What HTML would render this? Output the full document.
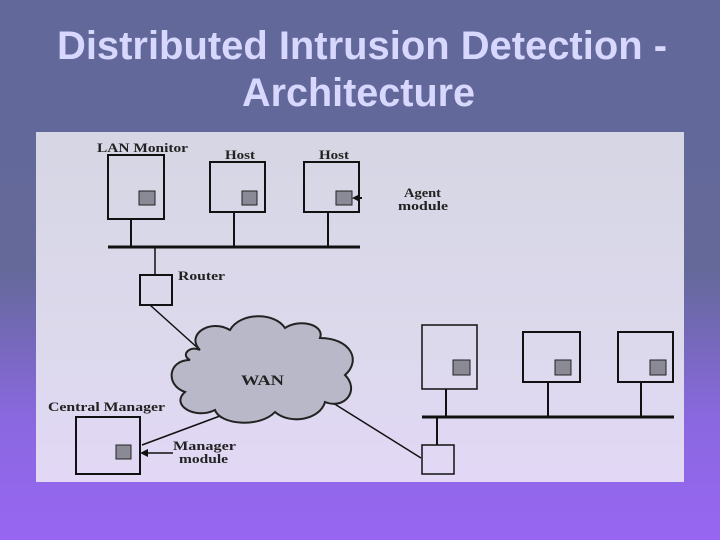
<!DOCTYPE html>
<html><head><meta charset="utf-8"><style>
html,body{margin:0;padding:0;}
body{width:720px;height:540px;overflow:hidden;background:linear-gradient(#62689a 0%,#64699a 50%,#8a68e0 78%,#9866f2 100%);}
</style></head><body>
<svg width="720" height="540" viewBox="0 0 720 540" xmlns="http://www.w3.org/2000/svg" style="position:absolute;left:0;top:0">
<defs><linearGradient id="pg" x1="0" y1="0" x2="0" y2="1"><stop offset="0" stop-color="#d6d6e4"/><stop offset="0.6" stop-color="#dcd9ec"/><stop offset="1" stop-color="#e2d8f6"/></linearGradient></defs>
<g font-family="Liberation Sans, sans-serif" font-weight="bold" fill="#d8d8ff" font-size="40">
<text x="57" y="59" textLength="610" lengthAdjust="spacingAndGlyphs">Distributed Intrusion Detection -</text>
<text x="242" y="106" textLength="233" lengthAdjust="spacingAndGlyphs">Architecture</text>
</g>
<rect x="36" y="132" width="648" height="350" fill="url(#pg)"/>
<g stroke="#111" fill="none" stroke-width="2">
<rect x="108" y="155" width="56" height="64"/>
<rect x="210" y="162" width="55" height="50"/>
<rect x="304" y="162" width="55" height="50"/>
<line x1="131" y1="219" x2="131" y2="247"/><line x1="234" y1="212" x2="234" y2="247"/><line x1="328" y1="212" x2="328" y2="247"/>
<line x1="108" y1="247" x2="360" y2="247" stroke-width="3"/>
<line x1="155" y1="247" x2="155" y2="275" stroke-width="1.5"/>
<rect x="140" y="275" width="32" height="30"/>
<line x1="150" y1="305" x2="200" y2="350" stroke-width="1.5"/>
<rect x="76" y="417" width="64" height="57"/>
<line x1="228" y1="413" x2="142" y2="445" stroke-width="1.5"/>
<line x1="173" y1="453" x2="142" y2="453" stroke-width="1.5"/>
<line x1="333" y1="403" x2="421" y2="458" stroke-width="1.5"/>
<rect x="422" y="325" width="55" height="64" stroke-width="1.5"/>
<rect x="523" y="332" width="57" height="50"/>
<rect x="618" y="332" width="55" height="50"/>
<line x1="422" y1="417" x2="674" y2="417" stroke-width="3"/>
<line x1="446" y1="389" x2="446" y2="417"/><line x1="548" y1="382" x2="548" y2="417"/><line x1="641" y1="382" x2="641" y2="417"/>
<line x1="437" y1="417" x2="437" y2="445"/>
<rect x="422" y="445" width="32" height="29" stroke-width="1.5"/>
<line x1="362" y1="198" x2="354" y2="198"/>
</g>
<path d="M200,350 C185,335 210,318 230,330 C240,312 275,312 285,328 C300,318 325,325 320,338 C350,338 362,360 345,375 C360,390 345,410 325,402 C320,420 290,425 275,412 C260,428 220,425 215,410 C195,420 170,405 185,392 C165,385 168,360 190,360 C180,355 190,345 200,350 Z" fill="#b8b8c8" stroke="#222" stroke-width="2"/>
<g fill="#8a8a96" stroke="#222" stroke-width="1">
<rect x="139" y="191" width="16" height="14"/><rect x="242" y="191" width="15" height="14"/><rect x="336" y="191" width="16" height="14"/>
<rect x="116" y="445" width="15" height="14"/>
<rect x="453" y="360" width="17" height="15"/><rect x="555" y="360" width="16" height="15"/><rect x="650" y="360" width="16" height="15"/>
</g>
<polygon points="352,198 360,194 360,202" fill="#111"/>
<polygon points="140,453 148,449 148,457" fill="#111"/>
<g font-family="Liberation Serif, serif" font-weight="bold" fill="#222" font-size="13" lengthAdjust="spacingAndGlyphs">
<text x="97" y="152" textLength="91" lengthAdjust="spacingAndGlyphs">LAN Monitor</text>
<text x="225" y="159" textLength="30" lengthAdjust="spacingAndGlyphs">Host</text>
<text x="319" y="159" textLength="30" lengthAdjust="spacingAndGlyphs">Host</text>
<text x="404" y="197" textLength="37" lengthAdjust="spacingAndGlyphs">Agent</text>
<text x="398" y="210" textLength="50" lengthAdjust="spacingAndGlyphs">module</text>
<text x="178" y="280" textLength="47" lengthAdjust="spacingAndGlyphs">Router</text>
<text x="241" y="385" font-size="15" textLength="43" lengthAdjust="spacingAndGlyphs">WAN</text>
<text x="48" y="411" textLength="117" lengthAdjust="spacingAndGlyphs">Central Manager</text>
<text x="173" y="450" textLength="63" lengthAdjust="spacingAndGlyphs">Manager</text>
<text x="179" y="463" textLength="49" lengthAdjust="spacingAndGlyphs">module</text>
</g>
</svg>
</body></html>
